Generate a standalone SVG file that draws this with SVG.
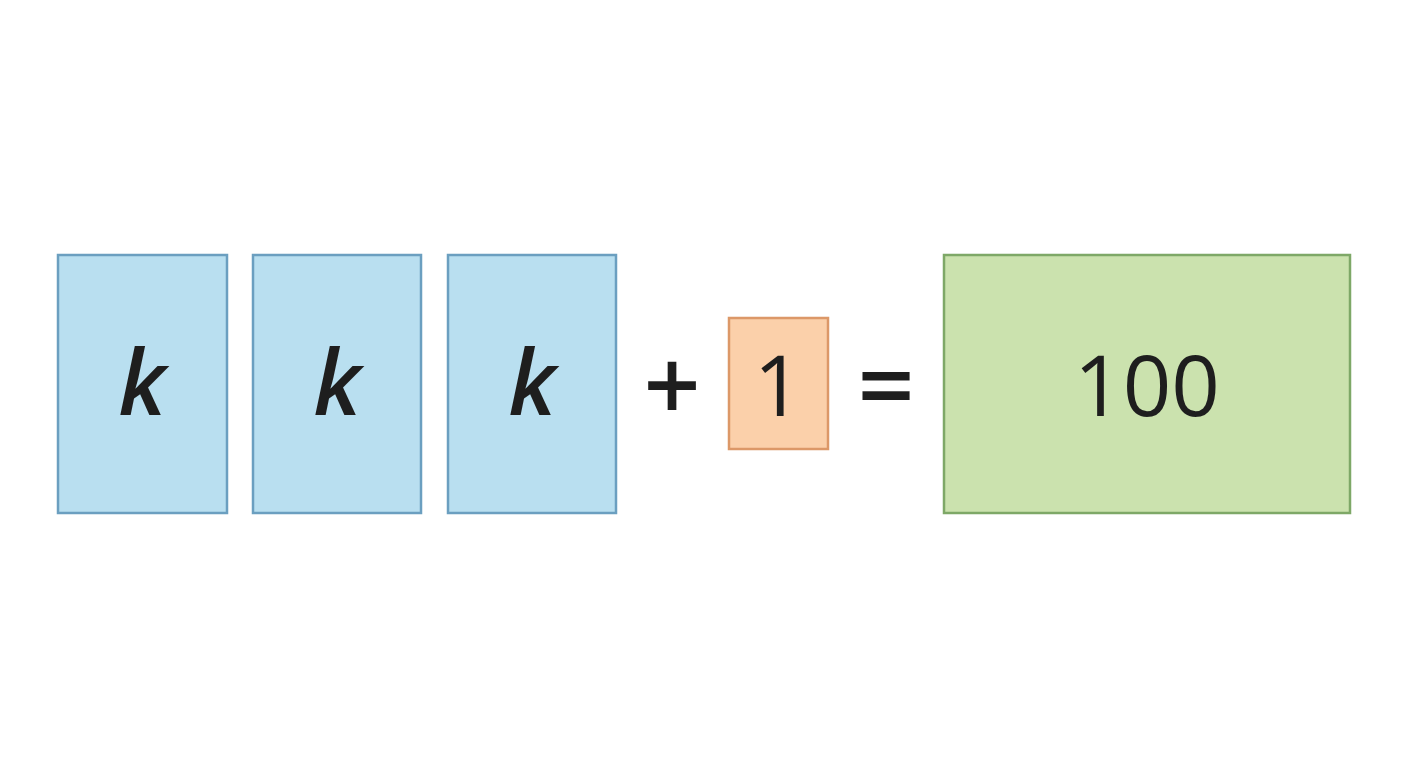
<svg xmlns="http://www.w3.org/2000/svg" width="1408" height="768" viewBox="0 0 1408 768">
<style>
.b{fill:#b9dff0;stroke:#6b9fc0;stroke-width:2.5}
.o{fill:#fbd0aa;stroke:#dc9868;stroke-width:2.5}
.g{fill:#cbe2ae;stroke:#7ea867;stroke-width:2.5}
.t{font-family:"Open Sans","Noto Sans",sans-serif;fill:#1e1e1e;text-anchor:middle}
.k{font-style:italic;font-size:90px;font-weight:600}
.n{font-size:85px;font-weight:400}
.s{font-size:100px;font-weight:600}
</style>
<rect width="1408" height="768" fill="#ffffff"/>
<g id="k1"><rect class="b" x="58" y="255" width="169" height="258"/><text class="t k" x="142" y="415">k</text></g>
<g id="k2"><rect class="b" x="253" y="255" width="168" height="258"/><text class="t k" x="337" y="415">k</text></g>
<g id="k3"><rect class="b" x="448" y="255" width="168" height="258"/><text class="t k" x="532" y="415">k</text></g>
<g id="plus"><text class="t s" x="672" y="421">+</text></g>
<g id="one"><rect class="o" x="729" y="318" width="99" height="131"/><text class="t n" x="778" y="416">1</text></g>
<g id="eq"><text class="t s" x="886" y="421">=</text></g>
<g id="result"><rect class="g" x="944" y="255" width="406" height="258"/><text class="t n" x="1147" y="416">100</text></g>
<g id="connectors"/>
</svg>
